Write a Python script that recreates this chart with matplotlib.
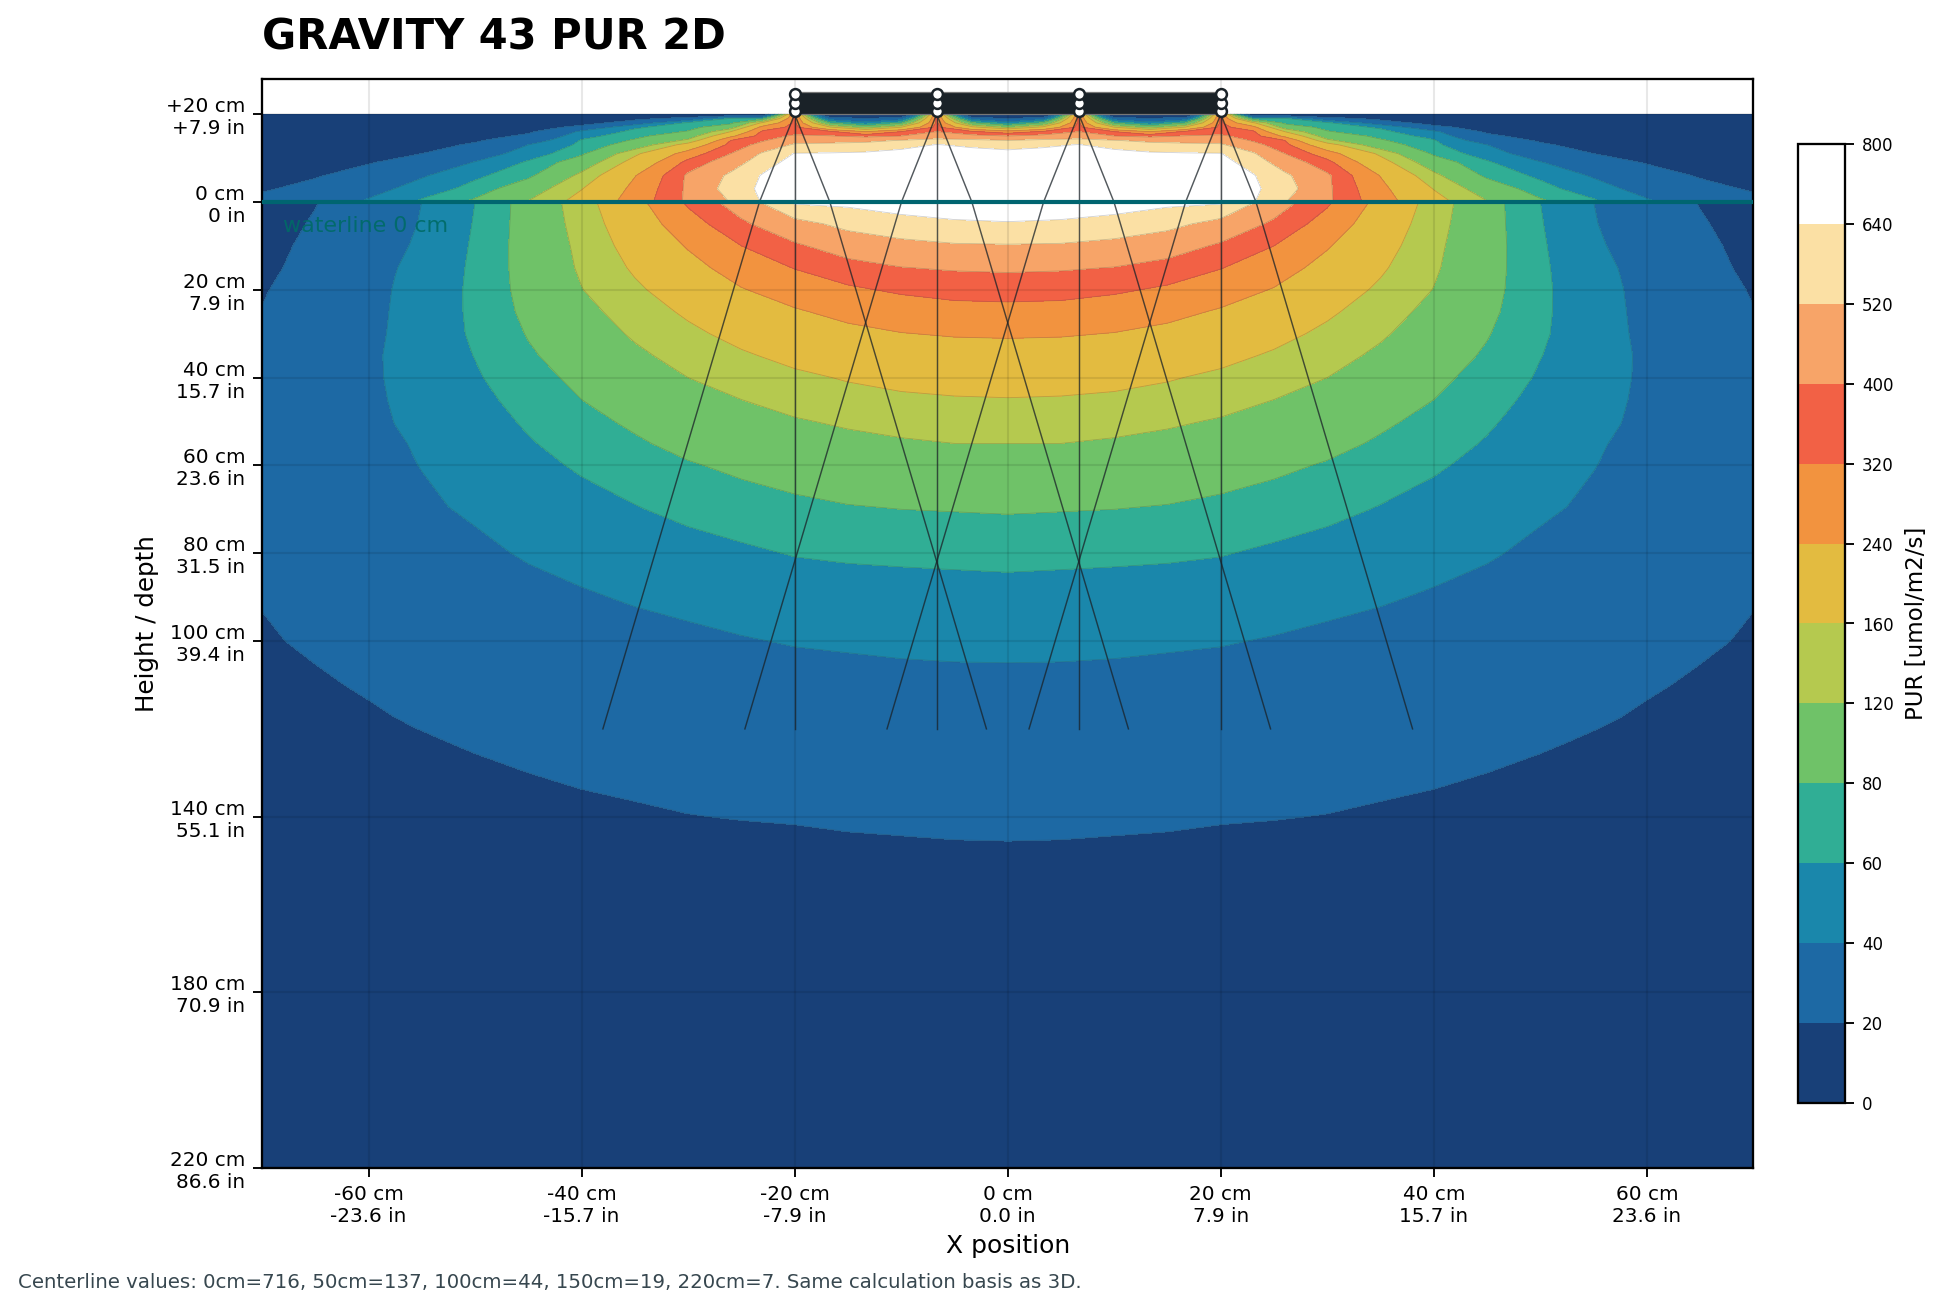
import numpy as np
import matplotlib
matplotlib.use("Agg")
import matplotlib.pyplot as plt
from matplotlib.cm import ScalarMappable
from matplotlib.colors import BoundaryNorm, ListedColormap

TITLE = "GRAVITY 43 PUR 2D"
CAPTION = "Centerline values: 0cm=716, 50cm=137, 100cm=44, 150cm=19, 220cm=7. Same calculation basis as 3D."
LEVELS = [0, 20, 40, 60, 80, 120, 160, 240, 320, 400, 520, 640, 800]
BAND_COLORS = ["#184078", "#1d69a4", "#1a87ab", "#30ae95", "#6fc268", "#b5c94f",
               "#e3bb40", "#f2933f", "#f26145", "#f7a468", "#fbe0a4", "#ffffff"]

X_TICKS = [-60, -40, -20, 0, 20, 40, 60]
X_LABELS = ["-60 cm\n-23.6 in", "-40 cm\n-15.7 in", "-20 cm\n-7.9 in", "0 cm\n0.0 in",
            "20 cm\n7.9 in", "40 cm\n15.7 in", "60 cm\n23.6 in"]
Y_TICKS = [20, 0, -20, -40, -60, -80, -100, -140, -180, -220]
Y_LABELS = ["+20 cm\n+7.9 in", "0 cm\n0 in", "20 cm\n7.9 in", "40 cm\n15.7 in", "60 cm\n23.6 in",
            "80 cm\n31.5 in", "100 cm\n39.4 in", "140 cm\n55.1 in", "180 cm\n70.9 in", "220 cm\n86.6 in"]

EMITTER_X = [-20, -6.67, 6.67, 20]
EMITTER_Y = [20.8, 22.6, 24.6]
BEAM_OFFSET_AT_WATER = [-3.3, 0, 3.3]
BEAM_OFFSET_AT_END = [-18, 0, 18]
BEAM_END_DEPTH = -120

# PUR: water part, one list per distance from the centre
WATER_DEPTH = [0, -5, -10, -15, -20, -25, -30, -35, -40, -45, -50, -55, -60, -70, -80, -90,
               -100, -110, -120, -130, -140, -150, -170, -220]
WATER_X = [0, 5, 10, 15, 20, 25, 30, 35, 40, 45, 50, 52.5, 55, 57.5, 60, 65, 70]
W00 = [716, 632, 512, 415, 350, 298, 248, 213, 184, 158, 137, 120, 106, 82, 66, 53, 44, 36.3, 30.5, 25.9, 21.9, 18.6, 13.5, 7]
W05 = [705, 625, 508, 410, 345, 296, 246, 210, 183, 156, 136, 120, 105, 81, 65, 52.5, 44, 36, 30.4, 25.8, 21.8, 18.5, 13.4, 7]
W10 = [690, 605, 484, 397, 332, 280, 238, 204, 177, 151, 132, 116, 102, 80, 64, 52, 43, 35.9, 30, 25.4, 21.5, 18.2, 13.2, 6.9]
W15 = [670, 555, 450, 367, 308, 260, 223, 190, 164, 145, 125, 111, 98, 78, 63, 51, 42, 35, 29.5, 25, 21.2, 17.9, 13, 6.8]
W20 = [660, 481, 386, 323, 274, 233, 201, 174, 151, 133, 117, 104, 92.5, 74, 61, 50, 41, 34, 28.5, 24.2, 20.6, 17.5, 12.7, 6.6]
W25 = [458, 383, 320, 275, 236, 204, 176, 154, 136, 120, 107, 96, 85, 70, 57, 47.5, 39, 33, 28, 24, 20.3, 17, 12.4, 6.4]
W30 = [333, 287, 246, 217, 191, 168, 150, 134, 120, 108, 97, 87, 78, 65, 53, 44, 37, 31.5, 27, 23, 19.8, 16.4, 12, 6.2]
W35 = [219, 200, 183, 167, 152, 138, 125, 113, 103, 93, 84, 77, 70.4, 58.8, 49, 41.4, 35.3, 30, 25.7, 22, 19, 16, 11.6, 6]
W40 = [141, 135, 129, 125, 119, 109, 101, 93, 86, 80, 73.8, 68, 62.6, 53, 45, 38.6, 33, 28.6, 24.6, 21.3, 18, 15.5, 11.2, 5.8]
W45 = [92, 92, 92, 91, 89, 86, 81.5, 77, 72, 67, 62.5, 58.5, 54.5, 46.8, 41.5, 35.6, 30.8, 26.7, 23, 20, 17, 14.6, 10.8, 5.5]
W50 = [60, 61.5, 63, 64, 64.7, 64, 62.8, 60.5, 58, 55, 52.2, 49.4, 46.6, 42, 37, 32, 28, 24.6, 21.5, 18.9, 16.2, 13.9, 10.2, 5.2]
W52 = [49, 50, 52, 54, 55, 55.5, 55.5, 54.5, 53.5, 52, 50.5, 47.6, 44.9, 39.7, 34.9, 30.7, 26.9, 23.7, 20.8, 18.3, 15.8, 13.6, 9.9, 5.1]
W55 = [40, 41, 43, 45, 47, 47.5, 48, 48, 47, 46, 44.5, 42, 40.6, 36.3, 32, 28.7, 25.6, 22.6, 20.1, 17.8, 15.4, 13.3, 9.6, 5]
W57 = [33.3, 35.3, 37, 39.5, 40.8, 41.3, 41.7, 42.3, 42, 41.5, 40.3, 38.4, 36.5, 32.5, 29.4, 26.6, 24, 21.5, 19.5, 17.3, 15, 12.9, 9.4, 4.9]
W60 = [27.8, 29.7, 31.5, 33.3, 35, 36, 36.7, 37.5, 37.5, 36.5, 35.5, 34, 32.4, 29.6, 27, 24.7, 22.5, 20.6, 18.9, 16.7, 14.6, 12.5, 9.1, 4.7]
W65 = [19.5, 21, 22.5, 23.5, 24.8, 26, 26.5, 27, 27, 26.5, 26, 25.5, 25, 23.5, 22.5, 21.5, 20.8, 19.3, 17.6, 15.6, 13.6, 11.8, 8.6, 4.5]
W70 = [15, 16, 17, 18, 19.3, 20.3, 21, 21.5, 22, 22, 22, 22, 21.7, 21.3, 20.8, 20.3, 19.4, 17.8, 16.4, 14.5, 12.8, 11, 8.2, 4.3]

# PUR: air part, one list per height
AIR_X = [0, 3.33, 6.67, 10, 13.33, 16.67, 20, 23, 26, 30, 35, 40, 45, 50, 55, 60, 65, 70]
AIR_HEIGHT = [0, 3, 6, 9, 11, 13, 14, 15, 16, 17, 18, 19, 20]
A00 = [740, 745, 750, 755, 760, 760, 750, 650, 525, 418, 277, 182, 122, 85, 64, 43, 28, 24]
A03 = [760, 760, 760, 760, 760, 760, 750, 665, 574, 418, 261, 158, 100, 68, 49, 33, 24, 18.7]
A06 = [750, 750, 750, 745, 740, 730, 700, 650, 542, 416, 237, 130, 75, 56, 38, 26, 19, 15]
A09 = [735, 735, 735, 730, 725, 715, 690, 585, 465, 345, 184, 97, 63, 41, 26, 19.2, 15, 12]
A11 = [680, 695, 715, 690, 660, 650, 645, 535, 400, 277, 150, 76, 50, 30, 20, 15, 12, 9.5]
A13 = [590, 615, 645, 590, 555, 540, 535, 435, 345, 185, 95, 65, 40, 22, 15.5, 11.5, 9, 7.5]
A14 = [520, 545, 570, 525, 495, 490, 480, 390, 320, 128, 83, 62, 30, 18.5, 13, 10, 8, 6.5]
A15 = [400, 430, 440, 400, 375, 405, 415, 360, 225, 100, 74, 53, 23, 15, 11, 8, 6.5, 5.5]
A16 = [280, 330, 400, 320, 240, 335, 365, 335, 160, 82, 66, 44, 18, 12, 9, 6.5, 5, 4]
A17 = [115, 175, 345, 160, 105, 165, 345, 270, 102, 72, 57, 26, 13, 9.5, 7, 5, 4, 3]
A18 = [50, 82, 335, 75, 48, 78, 335, 170, 74, 64, 30, 14.5, 9, 7, 5, 4, 3, 2.3]
A19 = [20, 32, 340, 30, 21, 30, 340, 68, 62, 27, 16, 8, 5.5, 4, 3, 2.5, 2, 1.5]
A20 = [5, 5, 340, 5, 5, 5, 340, 10, 10, 8, 6, 3, 2.5, 2, 1.5, 1.2, 1, 0.8]


def mirrored(x_half, table):
    x = np.concatenate([-np.array(x_half[:0:-1], float), np.array(x_half, float)])
    z = np.concatenate([table[:, :0:-1], table], axis=1)
    return x, z


water = np.column_stack([W00, W05, W10, W15, W20, W25, W30, W35, W40, W45, W50, W52, W55, W57, W60, W65, W70])
air = np.vstack([A00, A03, A06, A09, A11, A13, A14, A15, A16, A17, A18, A19, A20])
water_x, water_z = mirrored(WATER_X, water)
air_x, air_z = mirrored(AIR_X, air)

plt.rcParams["font.family"] = "DejaVu Sans"
fig = plt.figure(figsize=(12.973, 8.727), dpi=150)
W, H = 1946, 1309
ax = fig.add_axes([262 / W, 1 - 1168 / H, (1753.5 - 262) / W, (1168 - 79) / H])

log_levels = np.log([0.05] + LEVELS[1:])
for x, y, z in ((water_x, WATER_DEPTH, water_z), (air_x, AIR_HEIGHT, air_z)):
    ax.contourf(x, y, np.log(z), levels=log_levels, colors=BAND_COLORS, zorder=1)
    ax.contour(x, y, np.log(z), levels=log_levels[1:-1], colors="#444444",
               linewidths=0.4, alpha=0.25, zorder=1.5)

ax.set_xlim(-70, 70)
ax.set_ylim(-220, 28)
ax.set_xticks(X_TICKS, X_LABELS, fontsize=9.6)
ax.set_yticks(Y_TICKS, Y_LABELS, fontsize=9.6)
ax.tick_params(length=4.5, width=0.9)
ax.grid(True, color="black", alpha=0.09, linewidth=1.0, zorder=2)
ax.set_axisbelow(False)
for s in ax.spines.values():
    s.set_linewidth(1.1)

ax.set_xlabel("X position", fontsize=12, labelpad=4)
ax.set_ylabel("Height / depth", fontsize=11.8, labelpad=3.5)
ax.set_title(TITLE, loc="left", fontsize=20, fontweight="bold", pad=14)

# fixture bar, emitters and beams
ax.fill_between([EMITTER_X[0], EMITTER_X[-1]], 20, 25, color="#1a2228", ec="#777777", lw=0.6, zorder=4)
for ex in EMITTER_X:
    for w_off, e_off in zip(BEAM_OFFSET_AT_WATER, BEAM_OFFSET_AT_END):
        ax.plot([ex, ex + w_off, ex + e_off], [20, 0, BEAM_END_DEPTH], color="#1a2228",
                lw=0.7, alpha=0.75, zorder=5)
for i, ey in enumerate(EMITTER_Y):
    ax.plot(EMITTER_X, [ey] * len(EMITTER_X), ls="none", marker="o", ms=5.2, mfc="white",
            mec="#1a2228", mew=1.2, zorder=6 + i)

ax.axhline(0, color="#006570", lw=2.0, zorder=5.5)
ax.text(-68, -5.5, "waterline 0 cm", color="#006b66", fontsize=10.6, va="center", alpha=0.9, zorder=5.5)

cax = fig.add_axes([1798 / W, 1 - 1103 / H, 47.5 / W, (1103 - 144) / H])
cmap = ListedColormap(BAND_COLORS)
norm = BoundaryNorm(LEVELS, cmap.N)
cb = fig.colorbar(ScalarMappable(norm=norm, cmap=cmap), cax=cax, ticks=LEVELS, spacing="uniform")
cb.ax.tick_params(labelsize=8, length=4.5, width=0.9)
cb.outline.set_linewidth(1.1)
cb.set_label("PUR [umol/m2/s]", fontsize=11, labelpad=5.5)

fig.text(18 / W, 1 - 1282 / H, CAPTION, fontsize=9.48, color="#37474f", va="center")
fig.savefig("out.png", dpi=150)
